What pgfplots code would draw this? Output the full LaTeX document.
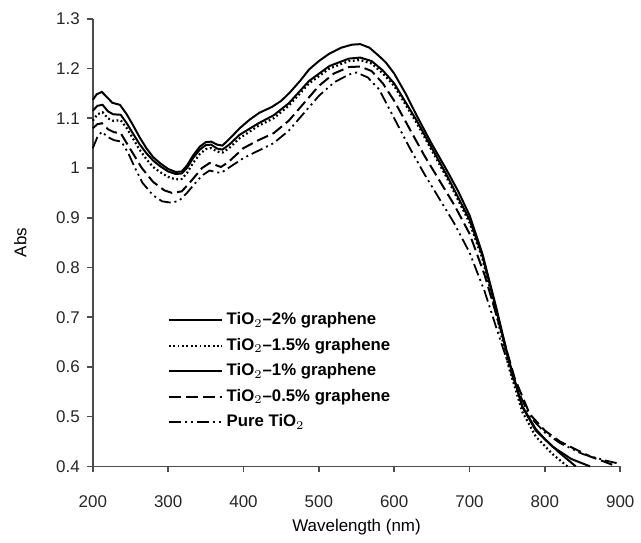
\documentclass[border=0pt]{standalone}
\usepackage{pgfplots}
\pgfplotsset{compat=1.18}
\usepackage{fontspec}
\setmainfont{Liberation Sans}

% 2% graphene
\pgfplotstableread{
x y
200 1.137
205 1.148
212 1.153
219 1.142
226 1.131
236 1.127
245 1.108
253 1.087
262 1.062
271 1.040
280 1.022
289 1.010
300 0.998
310 0.992
318 0.993
325 1.005
333 1.025
342 1.043
350 1.052
357 1.053
365 1.047
372 1.045
381 1.058
395 1.080
408 1.097
421 1.111
438 1.123
450 1.135
461 1.151
475 1.175
487 1.198
500 1.215
514 1.230
530 1.242
544 1.248
555 1.249
567 1.242
580 1.225
589 1.212
600 1.190
615 1.150
630 1.105
650 1.048
670 0.995
685 0.953
700 0.905
717 0.828
735 0.722
752 0.615
770 0.521
788 0.475
800 0.455
819 0.428
841 0.400
}\gtwo

% 1.5% graphene
\pgfplotstableread{
x y
200 1.095
206 1.108
213 1.112
220 1.100
227 1.095
237 1.096
245 1.080
253 1.060
262 1.037
271 1.018
280 1.002
289 0.992
300 0.982
310 0.977
318 0.978
325 0.990
333 1.010
342 1.028
350 1.038
357 1.040
365 1.033
372 1.031
381 1.040
395 1.060
420 1.085
440 1.100
460 1.125
487 1.170
514 1.200
540 1.215
555 1.217
570 1.210
585 1.190
600 1.165
630 1.090
650 1.035
670 0.980
700 0.890
717 0.818
735 0.710
752 0.600
770 0.510
788 0.460
810 0.425
830 0.400
}\gonefive

% 1% graphene
\pgfplotstableread{
x y
200 1.115
206 1.125
213 1.127
220 1.114
227 1.108
237 1.107
245 1.090
253 1.070
262 1.048
271 1.030
280 1.015
289 1.004
300 0.993
310 0.988
318 0.989
325 1.000
333 1.020
342 1.037
350 1.046
357 1.047
365 1.039
372 1.037
381 1.047
395 1.067
420 1.090
440 1.106
460 1.130
487 1.175
514 1.205
540 1.220
555 1.222
570 1.215
585 1.196
600 1.170
630 1.095
650 1.040
670 0.985
700 0.896
717 0.824
735 0.718
752 0.612
770 0.520
788 0.472
810 0.440
835 0.415
860 0.400
}\gone

% 0.5% graphene
\pgfplotstableread{
x y
200 1.080
206 1.088
212 1.090
220 1.078
228 1.072
237 1.070
245 1.050
255 1.025
265 1.000
280 0.972
295 0.955
305 0.950
318 0.953
330 0.973
345 1.000
355 1.010
363 1.006
370 1.002
380 1.012
400 1.040
420 1.056
440 1.070
460 1.095
480 1.130
500 1.165
520 1.190
540 1.203
555 1.204
570 1.195
585 1.170
600 1.135
620 1.080
640 1.025
660 0.975
680 0.925
700 0.868
720 0.785
740 0.682
760 0.577
780 0.505
800 0.472
820 0.450
840 0.435
860 0.420
880 0.409
895 0.400
}\gzerofive

% pure TiO2
\pgfplotstableread{
x y
200 1.040
206 1.062
212 1.073
220 1.062
228 1.056
238 1.053
247 1.030
256 1.000
266 0.970
280 0.945
292 0.933
305 0.930
315 0.935
325 0.950
335 0.968
345 0.985
355 0.995
363 0.992
370 0.990
380 1.000
400 1.020
420 1.035
440 1.050
460 1.075
480 1.110
500 1.145
520 1.172
540 1.188
550 1.192
565 1.182
580 1.158
600 1.100
620 1.042
640 0.988
660 0.938
680 0.888
700 0.830
720 0.752
740 0.658
760 0.567
780 0.500
800 0.468
820 0.447
850 0.425
880 0.412
900 0.405
}\pure

\begin{document}
\begin{tikzpicture}
\begin{axis}[
    scale only axis, width=264.5pt, height=224.5pt,
    xmin=200, xmax=900, ymin=0.4, ymax=1.3,
    xtick={200,300,...,900}, ytick={0.4,0.5,...,1.3},
    axis x line=bottom, axis y line=left,
    axis line style={-, black!70, line width=0.8pt},
    tick style={black!70, line width=0.8pt},
    tick align=outside, major tick length=3pt,
    font=\fontsize{8.5}{10}\selectfont,
    /pgf/number format/assume math mode=true,
    yticklabel style={/pgf/number format/fixed, black!85},
    xticklabel style={black!85, yshift=-8pt},
    xlabel={Wavelength (nm)}, ylabel={Abs},
    xlabel style={yshift=1pt},
    ylabel style={yshift=8pt},
    legend style={draw=none, fill=none, at={(0.13,0.362)}, anchor=north west,
        font=\fontsize{8.4}{9}\selectfont\bfseries, row sep=1.2pt},
    legend cell align=left,
    legend image post style={xscale=1.55},
    clip=false,
]
\addplot[black, line width=1pt] table {\gtwo};
\addplot[black, line width=1.1pt, dash pattern=on 0.9pt off 1.3pt] table {\gonefive};
\addplot[black, line width=1pt] table {\gone};
\addplot[black, line width=1pt, dash pattern=on 6pt off 2.5pt] table {\gzerofive};
\addplot[black, line width=0.9pt, dash pattern=on 6pt off 2pt on 1pt off 2pt on 1pt off 2pt] table {\pure};
\legend{TiO$_2$--2\% graphene, TiO$_2$--1.5\% graphene, TiO$_2$--1\% graphene, TiO$_2$--0.5\% graphene, Pure TiO$_2$}
\path (rel axis cs:-0.176,-0.171) rectangle (rel axis cs:1.036,1.042);
\end{axis}
\end{tikzpicture}
\end{document}
